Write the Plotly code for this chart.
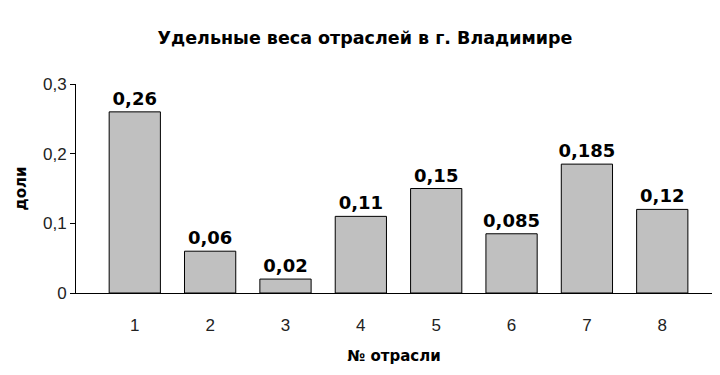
import plotly.graph_objects as go

categories = ["1", "2", "3", "4", "5", "6", "7", "8"]
values = [0.26, 0.06, 0.02, 0.11, 0.15, 0.085, 0.185, 0.12]
ytick_vals = [0, 0.1, 0.2, 0.3]
ytick_text = ["0", "0,1", "0,2", "0,3"]
labels = ["<b>" + str(v).replace(".", ",") + "</b>" for v in values]

fig = go.Figure(go.Bar(
    x=list(range(len(categories))), y=values,
    width=0.68,
    marker=dict(color="#c0c0c0", line=dict(color="black", width=1)),
    text=labels, textposition="outside", cliponaxis=False, constraintext="none",
    textfont=dict(family="DejaVu Sans", size=18, color="black"),
))

fig.update_layout(
    width=720, height=375,
    paper_bgcolor="white", plot_bgcolor="white",
    margin=dict(l=76, r=8, t=84, b=82),
    showlegend=False,
    title=dict(text="<b>Удельные веса отраслей в г. Владимире</b>",
               x=365/720, xref="container", xanchor="center",
               y=1 - 38/375, yanchor="middle",
               font=dict(family="DejaVu Sans", size=17.5, color="black")),
)
fig.update_xaxes(
    range=[-0.78, 7.66], tickvals=list(range(len(categories))), ticktext=categories,
    showline=True, linecolor="black", linewidth=1, ticks="", showgrid=False,
    zeroline=False, ticklabelstandoff=17,
    tickfont=dict(family="Liberation Sans", size=17, color="#222222"),
    title=dict(text="<b>№ отрасли</b>", standoff=16,
               font=dict(family="DejaVu Sans", size=15, color="black")),
)
fig.update_yaxes(
    range=[0, 0.3], tickvals=ytick_vals, ticktext=ytick_text,
    showline=True, linecolor="black", linewidth=1, ticks="outside", ticklen=5,
    tickcolor="black", showgrid=False, zeroline=False,
    tickfont=dict(family="Liberation Sans", size=17, color="#222222"),
    title=dict(text="<b>доли</b>", standoff=12,
               font=dict(family="DejaVu Sans", size=15, color="black")),
)
fig.write_html("out.html")
